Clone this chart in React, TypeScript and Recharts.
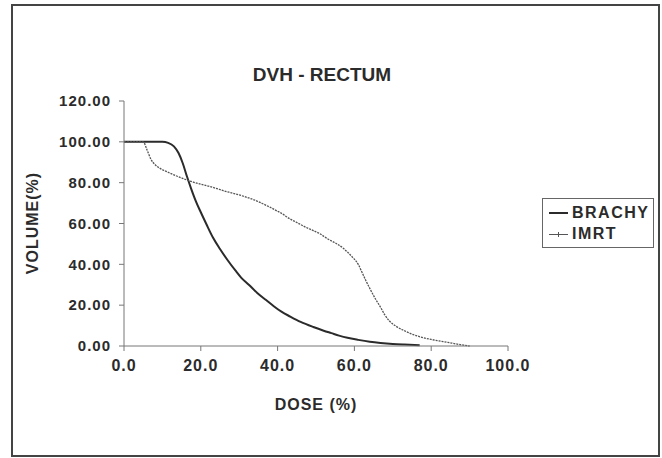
import React from "react";
import { LineChart, Line, XAxis, YAxis } from "recharts";

const xTicks = [0, 20, 40, 60, 80, 100];
const yTicks = [0, 20, 40, 60, 80, 100, 120];

const brachyDose = [0, 10, 11.5, 13, 14.2, 15.3, 16.4, 17.5, 18.7, 20, 21.5, 23.2, 25, 27, 29, 30.5, 32.5, 34.7, 37, 39, 41, 43.3, 46, 49.3, 52, 54, 56, 58.2, 61, 64, 66.8, 70, 73, 77];
const brachyVol = [100, 100, 99.5, 97.8, 94.5, 89.5, 83, 77, 71, 65.5, 59.5, 53, 47.5, 42, 37, 33.5, 30, 26, 22.5, 19.5, 16.8, 14.4, 11.8, 9.3, 7.5, 6.3, 5.1, 4, 3, 2.1, 1.5, 1, 0.7, 0.4];

const imrtDose = [0, 5, 6, 7, 8, 9.4, 11, 13, 15, 16.4, 18, 20, 22, 24, 26, 28, 30, 32, 34, 36, 38, 40, 41, 43, 45, 47, 49.3, 51, 53, 55, 57, 58.2, 59.5, 61, 62, 63, 64.2, 65.5, 66.8, 68, 69, 71, 73, 75, 77.3, 80, 82, 84.3, 86.5, 88.5, 90];
const imrtVol = [100, 100, 96, 91.5, 89, 87, 85.5, 83.8, 82.3, 81.3, 80.3, 79.2, 78.3, 77.2, 76, 75, 74, 72.8, 71.5, 69.8, 68, 66, 65, 62.5, 60.5, 58.5, 56.5, 55, 52.5, 50.5, 48, 46, 43.5, 40, 36, 32, 27.5, 23, 19, 15, 12.5, 9.5, 7.5, 5.8, 4.4, 3.2, 2.5, 1.8, 1, 0.4, 0];

const seriesNames = ["BRACHY", "IMRT"];

const brachyData = brachyDose.map((d, i) => ({ dose: d, vol: brachyVol[i] }));
const imrtData = imrtDose.map((d, i) => ({ dose: d, vol: imrtVol[i] }));

const FONT = "'Liberation Sans', Arial, sans-serif";
const INK = "#2b2b2b";

const LegendBox = () => (
  <div
    style={{
      position: "absolute",
      left: 542,
      top: 198,
      width: 112,
      height: 50,
      border: "1px solid #666",
      background: "#fff",
      fontFamily: FONT,
      fontWeight: "bold",
      fontSize: 16,
      letterSpacing: 1.5,
      color: INK,
      boxSizing: "border-box",
      paddingTop: 4,
    }}
  >
    <div style={{ display: "flex", alignItems: "center", height: 20 }}>
      <div style={{ width: 19, height: 1.5, background: INK, marginLeft: 6, marginRight: 4 }} />
      <span>{seriesNames[0]}</span>
    </div>
    <div style={{ display: "flex", alignItems: "center", height: 22 }}>
      <div style={{ position: "relative", width: 19, height: 1, background: "#555", marginLeft: 6, marginRight: 4 }}>
        <div style={{ position: "absolute", left: 9, top: -2, width: 1, height: 5, background: "#555" }} />
      </div>
      <span>{seriesNames[1]}</span>
    </div>
  </div>
);

export default function App() {
  return (
    <div style={{ position: "absolute", left: 0, top: 0, width: 662, height: 458, background: "#fff" }}>
      <div
        style={{
          position: "absolute",
          left: 11,
          top: 4,
          width: 649,
          height: 453,
          border: "2px solid #444",
          boxSizing: "border-box",
        }}
      />
      <div
        style={{
          position: "absolute",
          left: 0,
          width: 644,
          top: 64,
          textAlign: "center",
          fontFamily: FONT,
          fontSize: 19,
          fontWeight: "bold",
          color: INK,
        }}
      >
        DVH - RECTUM
      </div>
      <div style={{ position: "absolute", left: 0, top: 0 }}>
        <LineChart width={662} height={458} margin={{ top: 101, right: 154, bottom: 82, left: 64 }}>
          <XAxis
            type="number"
            dataKey="dose"
            domain={[0, 100]}
            ticks={xTicks}
            tickFormatter={(v: number) => v.toFixed(1)}
            allowDuplicatedCategory={false}
            stroke="#777"
            tickLine={{ stroke: "#777" }}
            tickSize={5}
            height={30}
            tick={{ fill: INK, fontFamily: FONT, fontWeight: "bold", fontSize: 16, letterSpacing: 1, dy: 7 }}
            label={{ value: "DOSE (%)", position: "insideBottom", offset: -34, fill: INK, fontFamily: FONT, fontWeight: "bold", fontSize: 16, letterSpacing: 1 }}
          />
          <YAxis
            type="number"
            dataKey="vol"
            domain={[0, 120]}
            ticks={yTicks}
            tickFormatter={(v: number) => v.toFixed(2)}
            stroke="#777"
            tickLine={{ stroke: "#777" }}
            tickSize={5}
            width={60}
            tick={{ fill: INK, fontFamily: FONT, fontWeight: "bold", fontSize: 15, letterSpacing: 1, dx: -6 }}
          />
          <Line
            data={brachyData}
            dataKey="vol"
            name={seriesNames[0]}
            stroke={INK}
            strokeWidth={2}
            dot={false}
            type="monotone"
            isAnimationActive={false}
          />
          <Line
            data={imrtData}
            dataKey="vol"
            name={seriesNames[1]}
            stroke="#555"
            strokeWidth={1.3}
            strokeDasharray="2 1"
            dot={false}
            type="monotone"
            isAnimationActive={false}
          />
        </LineChart>
      </div>
      <LegendBox />
      <div
        style={{
          position: "absolute",
          left: 33,
          top: 223,
          transform: "translate(-50%, -50%) rotate(-90deg)",
          fontFamily: FONT,
          fontWeight: "bold",
          fontSize: 16,
          letterSpacing: 1,
          color: INK,
          whiteSpace: "nowrap",
        }}
      >
        VOLUME(%)
      </div>
    </div>
  );
}
